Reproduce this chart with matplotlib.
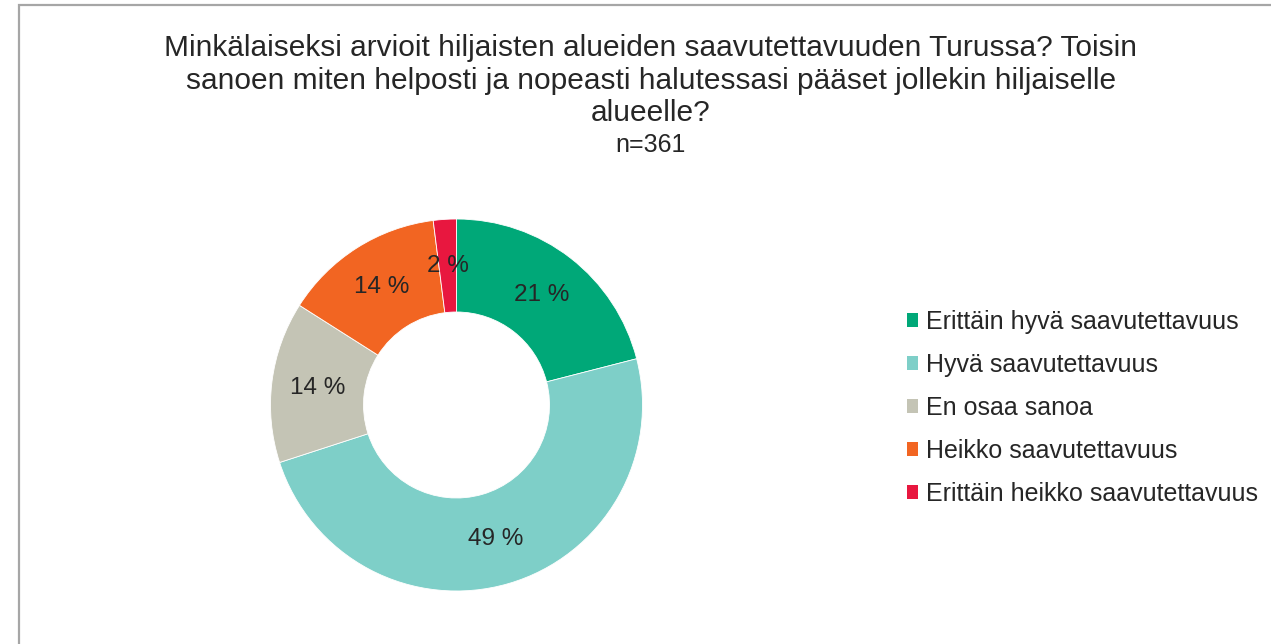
import matplotlib
matplotlib.use("Agg")
import matplotlib.pyplot as plt
from matplotlib.patches import Rectangle, Patch

plt.rcParams['font.family'] = ['Liberation Sans', 'DejaVu Sans']

categories = ["Erittäin hyvä saavutettavuus", "Hyvä saavutettavuus", "En osaa sanoa",
              "Heikko saavutettavuus", "Erittäin heikko saavutettavuus"]
values = [21, 49, 14, 14, 2]
colors = ["#00A878", "#7ECFC8", "#C4C4B5", "#F26522", "#E8173F"]
title = ("Minkälaiseksi arvioit hiljaisten alueiden saavutettavuuden Turussa? Toisin\n"
         "sanoen miten helposti ja nopeasti halutessasi pääset jollekin hiljaiselle\n"
         "alueelle?")
subtitle = "n=361"

W, H = 1271, 644
fig = plt.figure(figsize=(W / 100, H / 100), dpi=100)
fig.patch.set_facecolor("white")

# frame
fig.patches.append(Rectangle((19 / W, -0.1), 1.2, (H - 5) / H + 0.1, transform=fig.transFigure,
                             fill=False, edgecolor="#A6A6A6", linewidth=1.6))

cx, cy, r = 456.5, H - 405, 186
ax = fig.add_axes([(cx - r) / W, (cy - r) / H, 2 * r / W, 2 * r / H])
wedges, texts = ax.pie(values, colors=colors, startangle=90, counterclock=False, radius=1,
                       wedgeprops=dict(width=0.5, edgecolor="white", linewidth=0.6),
                       labels=[f"{v} %" for v in values], labeldistance=0.75,
                       textprops=dict(fontsize=17.5, color="#262626", ha="center", va="center"))
for t in texts:
    t.set_ha("center")
    t.set_va("center")
ax.set_xlim(-1, 1)
ax.set_ylim(-1, 1)
ax.set_aspect("equal")
ax.axis("off")

tx = 0.5 * (160 + 1142) / W
fig.text(tx, 1 - 34 / H, title, ha="center", va="top", fontsize=21.5,
         color="#262626", linespacing=1.21)
fig.text(tx, 1 - 152 / H, subtitle, ha="center", va="baseline", fontsize=18,
         color="#262626")

handles = [Patch(facecolor=c, edgecolor="none") for c in colors]
leg = fig.legend(handles, categories, loc="center left", bbox_to_anchor=(907 / W, 1 - 408 / H),
                 frameon=False, fontsize=18, handlelength=0.44, handleheight=0.44,
                 handletextpad=0.3, labelspacing=0.76, borderaxespad=0, borderpad=0)
for t in leg.get_texts():
    t.set_color("#262626")

fig.savefig("out.png", dpi=100, facecolor="white")
